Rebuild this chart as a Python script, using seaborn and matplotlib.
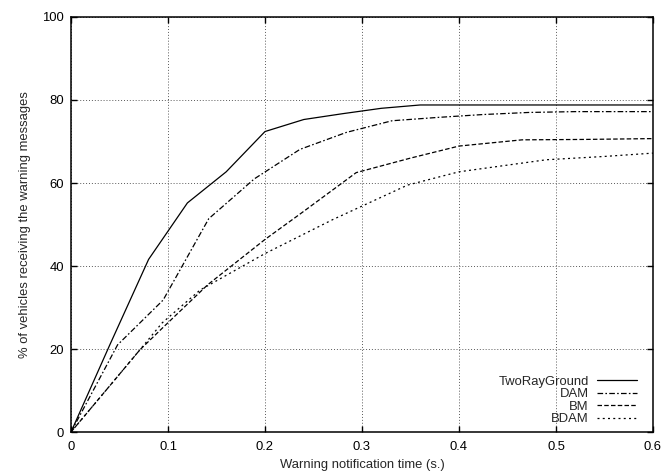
import numpy as np
import pandas as pd
import seaborn as sns
import matplotlib
matplotlib.use("Agg")
import matplotlib.pyplot as plt

# values (x in s., y in %)
two_ray_x = [0, 0.04, 0.08, 0.12, 0.16, 0.20, 0.24, 0.28, 0.32, 0.36, 0.40, 0.44, 0.48, 0.52, 0.56, 0.60]
two_ray_y = [0, 21.0, 41.6, 55.2, 62.7, 72.4, 75.3, 76.7, 78.0, 78.8, 78.8, 78.8, 78.8, 78.8, 78.8, 78.8]

dam_x = [0, 0.048, 0.095, 0.142, 0.189, 0.236, 0.284, 0.331, 0.378, 0.425, 0.472, 0.52, 0.567, 0.60]
dam_y = [0, 21.0, 31.8, 51.4, 61.0, 68.1, 72.2, 75.0, 75.8, 76.5, 77.0, 77.2, 77.2, 77.2]

bm_x = [0, 0.047, 0.071, 0.094, 0.141, 0.20, 0.236, 0.294, 0.35, 0.40, 0.465, 0.53, 0.60]
bm_y = [0, 13.1, 19.8, 25.0, 35.5, 46.4, 52.5, 62.5, 66.0, 68.9, 70.4, 70.5, 70.7]

bdam_x = [0, 0.047, 0.071, 0.094, 0.133, 0.20, 0.27, 0.347, 0.40, 0.49, 0.55, 0.60]
bdam_y = [0, 13.1, 19.8, 26.3, 34.2, 43.0, 51.2, 59.5, 62.7, 65.6, 66.4, 67.2]

labels = ["TwoRayGround", "DAM", "BM", "BDAM"]
x_ticks = [0, 0.1, 0.2, 0.3, 0.4, 0.5, 0.6]
x_tick_labels = ["0", "0.1", "0.2", "0.3", "0.4", "0.5", "0.6"]
y_ticks = [0, 20, 40, 60, 80, 100]

sns.set_theme(style="ticks")
plt.rcParams["font.family"] = ["Liberation Sans", "DejaVu Sans"]
fs = 9.4
plt.rcParams["font.size"] = fs

fig = plt.figure(figsize=(6.68, 4.72), dpi=100)
ax = fig.add_axes([0.1063, 0.0847, 0.8712, 0.8793])

lw = 0.9
styles = [
    "-",
    (0, (4.5, 1.8, 1.3, 1.8)),
    (0, (3.6, 1.8)),
    (0, (1.6, 2.6)),
]
series = [(two_ray_x, two_ray_y), (dam_x, dam_y), (bm_x, bm_y), (bdam_x, bdam_y)]

for (xs, ys), name, ls in zip(series, labels, styles):
    df = pd.DataFrame({"x": xs, "y": ys})
    sns.lineplot(data=df, x="x", y="y", ax=ax, color="black", lw=lw,
                 linestyle=ls, label=name, legend=False, sort=True)

ax.set_xlim(0, 0.6)
ax.set_ylim(0, 100)
ax.set_xticks(x_ticks)
ax.set_xticklabels(x_tick_labels)
ax.set_yticks(y_ticks)

ax.grid(True, color="0.35", linestyle=(0, (1, 2)), linewidth=0.7)
ax.tick_params(direction="in", length=4, width=1, top=True, right=True,
               labelsize=fs, colors="black")
ax.tick_params(axis="x", pad=6.5)
ax.tick_params(axis="y", pad=5)
for s in ax.spines.values():
    s.set_visible(True)
    s.set_color("black")
    s.set_linewidth(1.1)

ax.set_xlabel("Warning notification time (s.)", fontsize=fs, labelpad=4)
ax.set_ylabel("% of vehicles receiving the warning messages", fontsize=fs, labelpad=8)

ax.legend(loc="lower right", bbox_to_anchor=(0.983, 0.0), frameon=False,
          markerfirst=False, handlelength=3.0, handletextpad=0.65,
          labelspacing=0.03, borderpad=0, fontsize=fs)

fig.savefig("out.png", dpi=100)
